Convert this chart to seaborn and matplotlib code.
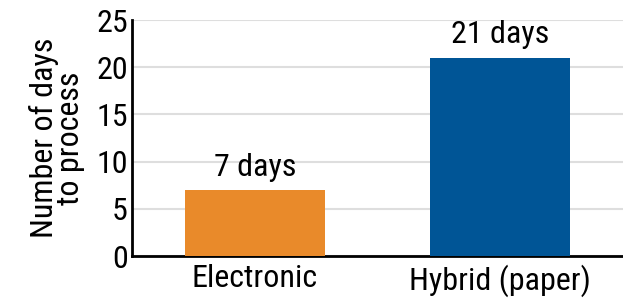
import matplotlib
matplotlib.use("Agg")
import matplotlib.pyplot as plt
import seaborn as sns
import pandas as pd
from matplotlib import font_manager

categories = ["Electronic", "Hybrid (paper)"]
values = [7, 21]
value_labels = ["7 days", "21 days"]
colors = ["#E98A2A", "#005596"]
yticks = [0, 5, 10, 15, 20, 25]

sns.set_theme(style="white")
avail = {f.name for f in font_manager.fontManager.ttflist}
fam = [f for f in ["Liberation Sans Narrow", "Roboto Condensed", "Liberation Sans", "DejaVu Sans"] if f in avail]
plt.rcParams["font.family"] = fam

df = pd.DataFrame({"cat": categories, "val": values})

FS = 23

fig = plt.figure(figsize=(6.23, 3.05), dpi=100)
ax = fig.add_axes([132/623, 1-256/305, 1-132/623, (256-20)/305])
sns.barplot(data=df, x="cat", y="val", hue="cat", palette=colors, width=0.57,
            legend=False, ax=ax, saturation=1, zorder=3, linewidth=0)
ax.set_ylim(0, 25)
ax.set_xlim(-0.5, 1.5)
ax.set_yticks(yticks)
ax.yaxis.grid(True, color="#dedede", linewidth=1.5, zorder=0)
ax.set_axisbelow(True)
for s in ["top", "right"]:
    ax.spines[s].set_visible(False)
for s in ["left", "bottom"]:
    ax.spines[s].set_color("black")
    ax.spines[s].set_linewidth(2)
ax.tick_params(axis="y", direction="in", length=11, width=2, color="black",
               labelsize=FS, pad=3, labelcolor="black")
ax.tick_params(axis="x", length=0, labelsize=FS, pad=6, labelcolor="black")
ax.set_xticks([0.5], minor=True)
ax.tick_params(axis="x", which="minor", direction="in", length=5, width=2, color="black")
ax.set_xlabel("")
ax.set_ylabel("Number of days\nto process", fontsize=FS, linespacing=0.85, labelpad=8, color="black")
for i, (v, t) in enumerate(zip(values, value_labels)):
    ax.annotate(t, (i, v), xytext=(0, 6), textcoords="offset points",
                ha="center", va="bottom", fontsize=FS, color="black")
fig.savefig("out.png", dpi=100)
